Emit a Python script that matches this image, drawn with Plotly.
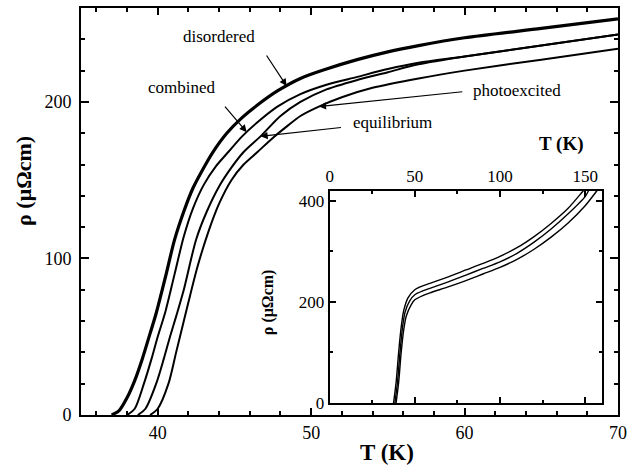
import plotly.graph_objects as go
import numpy as np

# ---------------- main panel data (T in K, rho in micro-ohm cm) ----------------
T_dis = [37.0, 37.5, 38.0, 38.5, 39.0, 39.5, 39.9, 40.5, 41.1, 41.7, 42.3, 43.0, 43.6, 44.5, 45.5, 46.5, 47.8, 49.3, 51, 53, 55, 57, 60, 65, 70]
rho_dis = [0, 3, 11, 22, 36, 52, 65, 88, 112, 130, 145, 158, 168, 180, 190, 198, 207, 215, 221, 227, 232, 236, 241, 247, 253]

T_com = [38.0, 38.5, 39.1, 39.6, 40.0, 40.5, 41.1, 41.7, 42.3, 43.0, 43.8, 44.6, 45.5, 46.5, 47.8, 49.3, 51, 53, 55, 57, 60, 65, 70]
rho_com = [0, 4, 20, 36, 50, 66, 90, 114, 132, 147, 159, 168, 178, 187, 197, 205, 211, 216, 221, 225, 229, 236, 243]

T_equ = [38.7, 39.2, 39.9, 40.4, 40.8, 41.2, 41.7, 42.5, 43.2, 44.0, 44.8, 45.6, 46.7, 48.0, 49.3, 51, 53, 55, 57, 60, 65, 70]
rho_equ = [0, 4, 20, 36, 50, 63, 80, 112, 130, 146, 158, 168, 178, 191, 200, 208, 214, 219, 224, 229, 236, 243]

T_pho = [39.5, 40.0, 40.7, 41.2, 41.7, 42.0, 42.6, 43.3, 44.0, 44.8, 45.6, 46.5, 47.5, 48.5, 49.3, 50.5, 52, 54, 57, 60, 65, 70]
rho_pho = [0, 4, 20, 40, 60, 72, 95, 117, 135, 150, 160, 168, 177, 185, 191, 197, 203, 209, 215, 220, 227, 234]

# ---------------- inset data ----------------
Ti_a = [37.5, 39, 40.5, 42, 43.5, 46, 50, 55, 60, 70, 80, 90, 100, 110, 120, 130, 140, 148, 150]
rhoi_a = [0, 40, 100, 150, 183, 208, 224, 232, 238, 250, 263, 276, 290, 307, 329, 355, 385, 416, 424]

Ti_b = [38.3, 39.8, 41.3, 42.8, 44.3, 47, 50, 55, 60, 70, 80, 90, 100, 110, 120, 130, 140, 150, 152]
rhoi_b = [0, 40, 100, 150, 180, 202, 214, 222, 228, 240, 253, 266, 279, 296, 318, 344, 374, 408, 420]

Ti_c = [39, 40.5, 42, 43.5, 45, 48, 50, 55, 60, 70, 80, 90, 100, 110, 120, 130, 140, 150, 157]
rhoi_c = [0, 40, 100, 145, 172, 195, 204, 213, 219, 230, 242, 255, 268, 284, 304, 328, 356, 390, 420]

# label texts
labels = ["disordered", "combined", "photoexcited", "equilibrium"]

SERIF = "Liberation Serif"

fig = go.Figure()

main_sets = [(T_dis, rho_dis, 3.2), (T_com, rho_com, 2.0), (T_equ, rho_equ, 2.0), (T_pho, rho_pho, 2.0)]
for T, r, w in main_sets:
    fig.add_trace(go.Scatter(x=T, y=r, mode="lines",
                             line=dict(color="black", width=w, shape="spline", smoothing=0.8),
                             showlegend=False, hoverinfo="skip"))

for T, r in [(Ti_a, rhoi_a), (Ti_b, rhoi_b), (Ti_c, rhoi_c)]:
    fig.add_trace(go.Scatter(x=T, y=r, mode="lines", xaxis="x2", yaxis="y2",
                             line=dict(color="black", width=1.4, shape="spline", smoothing=0.8),
                             showlegend=False, hoverinfo="skip"))

axis_common = dict(showline=True, linecolor="black", linewidth=2, mirror="ticks",
                   ticks="inside", tickcolor="black", tickwidth=1.5, showgrid=False,
                   zeroline=False, tickfont=dict(family=SERIF, size=18, color="black"))
inset_font = dict(family=SERIF, size=17, color="black")

fig.update_layout(
    width=633, height=468,
    margin=dict(l=81, r=8, t=6, b=53),
    paper_bgcolor="white", plot_bgcolor="white",
    xaxis=dict(range=[35, 70], tickvals=[40, 50, 60, 70], ticklen=7, ticklabeloverflow="allow",
               minor=dict(ticks="inside", ticklen=4, dtick=2, tick0=0, tickcolor="black", tickwidth=1.5),
               **axis_common),
    yaxis=dict(range=[0, 260], tickvals=[0, 100, 200], ticklen=8, ticklabelstandoff=4,
               minor=dict(ticks="inside", ticklen=4, dtick=20, tick0=0, tickcolor="black", tickwidth=1.5),
               **axis_common),
    xaxis2=dict(domain=[0.463, 0.9706], anchor="y2", side="top", range=[0, 160],
                tickvals=[0, 50, 100, 150], ticklen=6,
                minor=dict(ticks="inside", ticklen=3, dtick=25, tick0=0, tickcolor="black", tickwidth=1.5),
                **{**axis_common, "tickfont": inset_font}),
    yaxis2=dict(domain=[0.0294, 0.5515], anchor="x2", range=[0, 420],
                tickvals=[0, 200, 400], ticklen=6,
                minor=dict(ticks="inside", ticklen=3, dtick=100, tick0=0, tickcolor="black", tickwidth=1.5),
                **{**axis_common, "tickfont": inset_font}),
)

ann = []
# axis titles
ann.append(dict(text="<b>T (K)</b>", xref="paper", yref="paper", x=0.570, y=-0.092,
                xanchor="center", yanchor="middle",
                showarrow=False, font=dict(family=SERIF, size=23, color="black")))
ann.append(dict(text="<b>ρ (μΩcm)</b>", xref="paper", yref="paper", x=-0.107, y=0.574,
                xanchor="center", yanchor="middle",
                textangle=-90, showarrow=False, font=dict(family=SERIF, size=22, color="black")))
ann.append(dict(text="<b>T (K)</b>", xref="paper", yref="paper", x=0.894, y=0.667,
                xanchor="center", yanchor="middle",
                showarrow=False, font=dict(family=SERIF, size=19, color="black")))
ann.append(dict(text="<b>ρ (μΩcm)</b>", xref="paper", yref="paper", x=0.348, y=0.277,
                xanchor="center", yanchor="middle",
                textangle=-90, showarrow=False, font=dict(family=SERIF, size=16, color="black")))

# curve labels (text position in data coords) and arrows
label_pos = [(44.0, 242), (41.56, 209), (63.4, 207), (55.3, 187)]
tip_T = [48.4, 45.8, 50.5, 46.7]
tip_curves = [(T_dis, rho_dis), (T_com, rho_com), (T_pho, rho_pho), (T_equ, rho_equ)]
tails = [(-21, -32), (-23, -27), (145, -15), (82, -9)]
for lab, (lx, ly), tt, (cT, cr), (ax, ay) in zip(labels, label_pos, tip_T, tip_curves, tails):
    ann.append(dict(text=lab, x=lx, y=ly, xref="x", yref="y", showarrow=False,
                    xanchor="center", yanchor="middle",
                    font=dict(family=SERIF, size=17, color="black")))
    ann.append(dict(text="", x=tt, y=float(np.interp(tt, cT, cr)), xref="x", yref="y",
                    showarrow=True, ax=ax, ay=ay, arrowhead=2, arrowsize=1.2,
                    arrowwidth=1.2, arrowcolor="black", standoff=0))

fig.update_layout(annotations=ann)

fig.write_html("out.html", config={"displayModeBar": False},
               post_script="document.body.style.margin='0';")
